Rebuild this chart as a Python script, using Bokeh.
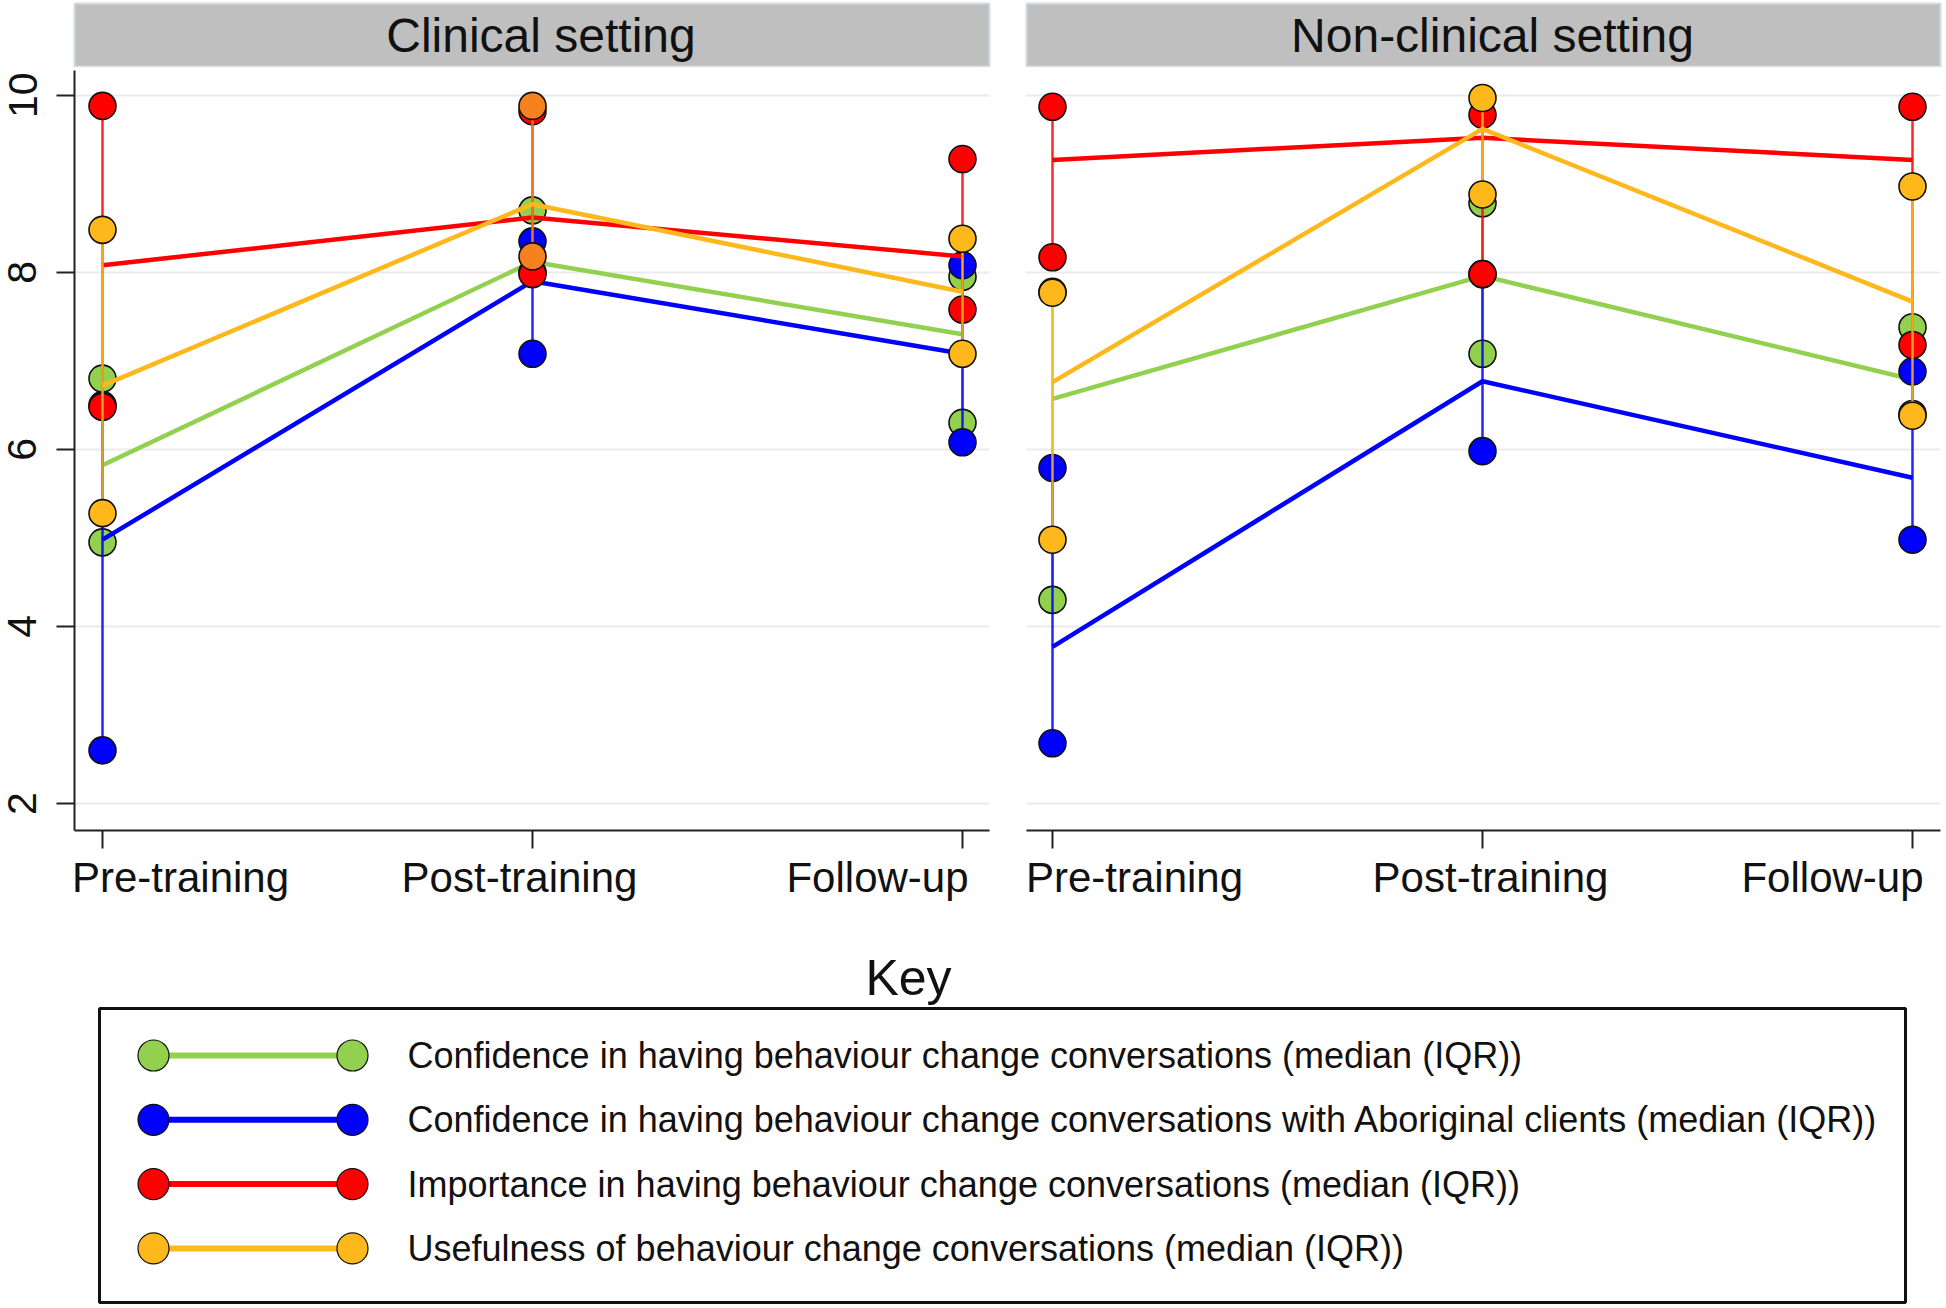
from bokeh.plotting import figure
from bokeh.models import (Range1d, FixedTicker, Grid, ColumnDataSource,
                          CustomJSTickFormatter, LinearAxis)
from bokeh.layouts import column, row
from bokeh.embed import file_html
from bokeh.resources import INLINE
from bokeh.core.properties import value

# ---------------- data ----------------
timepoints = ["Pre-training", "Post-training", "Follow-up"]
y_ticks = [2, 4, 6, 8, 10]
panel_titles = ["Clinical setting", "Non-clinical setting"]

series_names = [
    "Confidence in having behaviour change conversations (median (IQR))",
    "Confidence in having behaviour change conversations with Aboriginal clients (median (IQR))",
    "Importance in having behaviour change conversations (median (IQR))",
    "Usefulness of behaviour change conversations (median (IQR))",
]
series_colors = ["#92D050", "#0000FF", "#FF0000", "#FFB81C"]

# Clinical setting: median, lower quartile, upper quartile
clin_conf_med = [5.82, 8.12, 7.30]
clin_conf_q1 = [4.95, 8.00, 6.30]
clin_conf_q3 = [6.80, 8.70, 7.95]
clin_abor_med = [4.98, 7.90, 7.08]
clin_abor_q1 = [2.60, 7.08, 6.08]
clin_abor_q3 = [6.50, 8.35, 8.08]
clin_imp_med = [8.08, 8.62, 8.18]
clin_imp_q1 = [6.48, 7.98, 7.58]
clin_imp_q3 = [9.88, 9.82, 9.28]
clin_use_med = [6.72, 8.77, 7.78]
clin_use_q1 = [5.28, 8.18, 7.08]
clin_use_q3 = [8.48, 9.88, 8.38]

# Non-clinical setting
nonc_conf_med = [6.57, 7.96, 6.79]
nonc_conf_q1 = [4.30, 7.08, 6.40]
nonc_conf_q3 = [7.78, 8.78, 7.38]
nonc_abor_med = [3.77, 6.77, 5.68]
nonc_abor_q1 = [2.68, 5.98, 4.98]
nonc_abor_q3 = [5.79, 7.98, 6.88]
nonc_imp_med = [9.27, 9.52, 9.27]
nonc_imp_q1 = [8.17, 7.98, 7.18]
nonc_imp_q3 = [9.87, 9.78, 9.87]
nonc_use_med = [6.76, 9.62, 7.67]
nonc_use_q1 = [4.98, 8.88, 6.38]
nonc_use_q3 = [7.77, 9.97, 8.97]

clinical = [
    (clin_conf_med, clin_conf_q1, clin_conf_q3),
    (clin_abor_med, clin_abor_q1, clin_abor_q3),
    (clin_imp_med, clin_imp_q1, clin_imp_q3),
    (clin_use_med, clin_use_q1, clin_use_q3),
]
nonclinical = [
    (nonc_conf_med, nonc_conf_q1, nonc_conf_q3),
    (nonc_abor_med, nonc_abor_q1, nonc_abor_q3),
    (nonc_imp_med, nonc_imp_q1, nonc_imp_q3),
    (nonc_use_med, nonc_use_q1, nonc_use_q3),
]

# in the original the clinical post-training usefulness IQR is shown in orange
ORANGE = "#F5821F"
clinical_point_colors = [None, None, None, [series_colors[3], ORANGE, series_colors[3]]]
nonclinical_point_colors = [None, None, None, None]

FONT = "Liberation Sans"
TXT = "#111111"
AX = "#222222"
PX_PER_UNIT = 430.0
Y_RANGE = (1.695, 10.28)


def make_strip(title, frame_w, left, right):
    s = figure(frame_width=frame_w, frame_height=64, x_range=Range1d(0, 1), y_range=Range1d(0, 1),
               min_border_left=left, min_border_right=right, min_border_top=3, min_border_bottom=0,
               x_axis_location=None, y_axis_location=None,
               output_backend="svg", toolbar_location=None)
    s.background_fill_color = "#BFBFBF"
    s.border_fill_color = "white"
    s.outline_line_color = "#D3DCE4"
    s.outline_line_width = 2
    s.xgrid.visible = False
    s.ygrid.visible = False
    s.text(x=[0.5], y=[0.5], text=[title], text_font=value(FONT), text_font_size="48px",
           x_offset=9, text_align="center", text_baseline="middle", text_color=TXT)
    return s


def make_panel(groups, point_colors, xr, frame_w, left, right, show_y, label_px_offsets):
    p = figure(
        frame_width=frame_w, frame_height=760,
        x_range=Range1d(*xr), y_range=Range1d(*Y_RANGE),
        output_backend="svg", toolbar_location=None,
        min_border_left=left, min_border_right=right,
        min_border_top=3, min_border_bottom=80,
        y_axis_location="left" if show_y else None,
    )
    p.outline_line_color = None
    p.border_fill_color = "white"

    p.xgrid.visible = False
    if show_y:
        p.ygrid.ticker = FixedTicker(ticks=y_ticks)
        g = p.ygrid[0]
    else:
        g = Grid(dimension=1, ticker=FixedTicker(ticks=y_ticks))
        p.add_layout(g)
    g.grid_line_color = "#EBEBEB"
    g.grid_line_width = 2

    idx = list(range(len(timepoints)))

    # x axis: tick marks at the time points
    xa = p.xaxis[0]
    xa.ticker = FixedTicker(ticks=idx)
    xa.formatter = CustomJSTickFormatter(code="return ''")
    xa.major_label_text_font_size = "1px"
    xa.major_label_standoff = 0
    xa.axis_line_width = 2
    xa.axis_line_color = AX
    xa.major_tick_line_width = 2
    xa.major_tick_line_color = AX
    xa.major_tick_out = 18
    xa.major_tick_in = 0
    xa.minor_tick_line_color = None

    # x axis labels (placed like the original, nudged to stay inside the panel)
    lab_ticks = [i + off / PX_PER_UNIT for i, off in zip(idx, label_px_offsets)]
    xl = LinearAxis(ticker=FixedTicker(ticks=lab_ticks),
                    formatter=CustomJSTickFormatter(args=dict(names=timepoints), code="return names[index]"))
    xl.axis_line_color = None
    xl.major_tick_line_color = None
    xl.minor_tick_line_color = None
    xl.major_tick_out = 0
    xl.major_tick_in = 0
    xl.major_label_standoff = 5
    xl.major_label_text_font = FONT
    xl.major_label_text_font_size = "42px"
    xl.major_label_text_color = TXT
    p.add_layout(xl, "below")

    if show_y:
        ya = p.yaxis[0]
        ya.ticker = FixedTicker(ticks=y_ticks)
        ya.major_label_orientation = "vertical"
        ya.major_label_text_font = FONT
        ya.major_label_text_font_size = "41px"
        ya.major_label_text_color = TXT
        ya.major_label_standoff = 20
        ya.axis_line_width = 2
        ya.axis_line_color = AX
        ya.major_tick_line_width = 2
        ya.major_tick_line_color = AX
        ya.major_tick_out = 18
        ya.major_tick_in = 0
        ya.minor_tick_line_color = None

    for (med, q1, q3), col, pcol in zip(groups, series_colors, point_colors):
        pc = pcol if pcol is not None else [col] * len(idx)
        src = ColumnDataSource(dict(x=idx, med=med, q1=q1, q3=q3, pc=pc))
        p.segment(x0="x", y0="q1", x1="x", y1="q3", source=src, line_color="pc", line_width=2.5,
                  line_alpha=0.85)
        p.line(x="x", y="med", source=src, line_color=col, line_width=4.5)
        p.scatter(x="x", y="q1", source=src, size=27, fill_color="pc", line_color=TXT, line_width=1.6)
        p.scatter(x="x", y="q3", source=src, size=27, fill_color="pc", line_color=TXT, line_width=1.6)
    return p


# left panel: frame 74..989, time points at 102 / 532 / 962
s1 = make_strip(panel_titles[0], 915, 74, 15)
p1 = make_panel(clinical, clinical_point_colors,
                ((74 - 102) / PX_PER_UNIT, (989 - 102) / PX_PER_UNIT), 915, 74, 15, True,
                [78, -13, -85])
# right panel: frame 1026..1940, time points at 1052 / 1482 / 1912
s2 = make_strip(panel_titles[1], 914, 22, 4)
p2 = make_panel(nonclinical, nonclinical_point_colors,
                ((1026 - 1052) / PX_PER_UNIT, (1940 - 1052) / PX_PER_UNIT), 914, 22, 4, False,
                [82, 8, -80])

# ---------------- key ----------------
LW, LH = 1944, 396
leg = figure(width=LW, height=LH, x_range=Range1d(0, LW), y_range=Range1d(LH, 0),
             min_border=0, x_axis_location=None, y_axis_location=None,
             output_backend="svg", toolbar_location=None)
leg.outline_line_color = None
leg.xgrid.visible = False
leg.ygrid.visible = False

leg.text(x=[908], y=[67], text=["Key"], text_font=value(FONT), text_font_size="50px",
         text_align="center", text_baseline="middle", text_color=TXT)
leg.quad(left=[99], right=[1905], top=[98], bottom=[392], fill_color=None,
         line_color=TXT, line_width=3)

n = len(series_names)
row_y = [145 + 64.3 * i for i in range(n)]
lsrc = ColumnDataSource(dict(y=row_y, x0=[153] * n, x1=[352] * n, tx=[407] * n,
                             name=series_names, color=series_colors))
leg.segment(x0="x0", y0="y", x1="x1", y1="y", source=lsrc, line_color="color", line_width=6)
leg.scatter(x="x0", y="y", source=lsrc, size=31, fill_color="color", line_color=TXT, line_width=1.2)
leg.scatter(x="x1", y="y", source=lsrc, size=31, fill_color="color", line_color=TXT, line_width=1.2)
leg.text(x="tx", y="y", text="name", source=lsrc, text_font=value(FONT), text_font_size="36px",
         text_align="left", text_baseline="middle", text_color=TXT)

layout = column(row(column(s1, p1), column(s2, p2)), leg)
open("out.html", "w").write(file_html(layout, INLINE))
